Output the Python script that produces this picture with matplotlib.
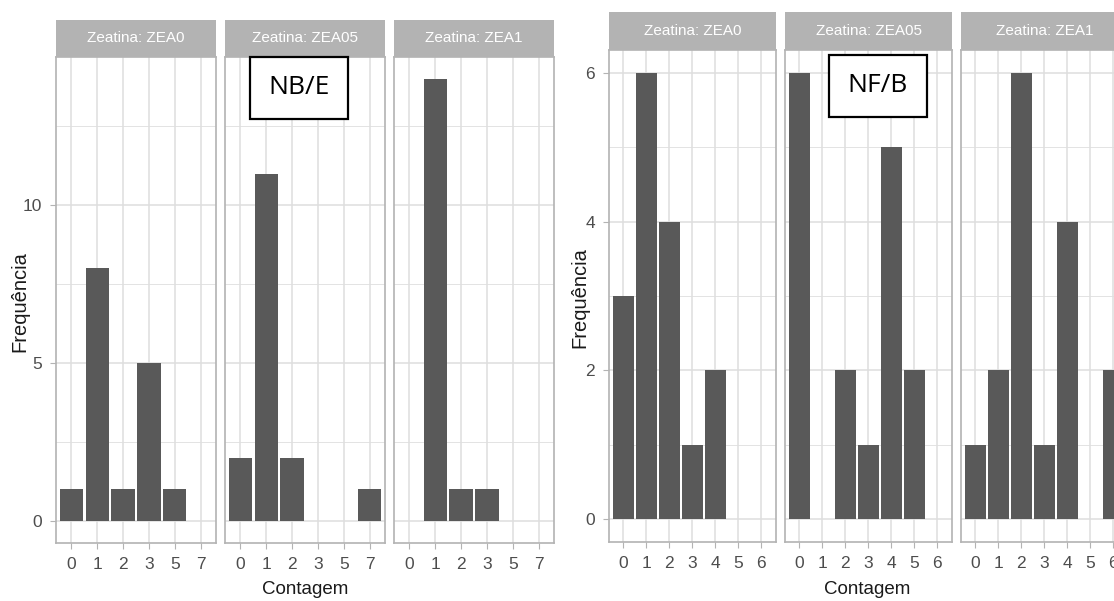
import matplotlib
matplotlib.use("Agg")
import matplotlib.pyplot as plt
import numpy as np

plt.rcParams['font.family'] = ['Liberation Sans', 'DejaVu Sans']

# dados - grafico da esquerda (NB/E), x discreto
facetas = ["Zeatina: ZEA0", "Zeatina: ZEA05", "Zeatina: ZEA1"]
cat_esq = ["0", "1", "2", "3", "5", "7"]
freq_esq = [
    [1, 8, 1, 5, 1, 0],   # ZEA0
    [2, 11, 2, 0, 0, 1],  # ZEA05
    [0, 14, 1, 1, 0, 0],  # ZEA1
]

# dados - grafico da direita (NF/B)
cont_dir = [0, 1, 2, 3, 4, 5, 6]
freq_dir = [
    [3, 6, 4, 1, 2, 0, 0],  # ZEA0
    [6, 0, 2, 1, 5, 2, 0],  # ZEA05
    [1, 2, 6, 1, 4, 0, 2],  # ZEA1
]

W, H = 1114, 601
fig = plt.figure(figsize=(W / 100, H / 100), dpi=100)

BAR = "#595959"
GRID = "#DEDEDE"
BORDA = "#B3B3B3"
TXT = "#4D4D4D"


def px(x0, y0, w, h):
    # caixa em pixels (topo-esquerda) -> fracao da figura
    return [x0 / W, 1 - (y0 + h) / H, w / W, h / H]


def painel(rect, strip_rect, titulo, xs, ys, xlim, ylim, yticks, yminor,
           xlabels, mostrar_y):
    ax = fig.add_axes(px(*rect))
    ax.bar(xs, ys, width=0.9, color=BAR, zorder=3)
    ax.set_xlim(*xlim)
    ax.set_ylim(*ylim)
    ax.set_xticks(xs)
    ax.set_xticklabels(xlabels, fontsize=12.5, color=TXT)
    ax.set_yticks(yticks)
    ax.set_yticks(yminor, minor=True)
    ax.grid(True, which="major", color=GRID, lw=1.1, zorder=0)
    ax.grid(True, which="minor", axis="y", color=GRID, lw=0.6, zorder=0)
    ax.tick_params(which="major", length=4, color=BORDA, pad=6)
    ax.tick_params(which="minor", length=0)
    if mostrar_y:
        ax.set_yticklabels([str(t) for t in yticks], fontsize=12.5, color=TXT)
    else:
        ax.tick_params(axis="y", which="major", length=0, labelleft=False)
    for s in ax.spines.values():
        s.set_color(BORDA)
        s.set_linewidth(1.2)
    st = fig.add_axes(px(*strip_rect))
    st.set_facecolor(BORDA)
    st.set_xticks([])
    st.set_yticks([])
    for s in st.spines.values():
        s.set_visible(False)
    st.text(0.5, 0.5, titulo, color="white", fontsize=11,
            ha="center", va="center", transform=st.transAxes)
    return ax


# grafico da esquerda
xs_esq = np.arange(len(cat_esq))
esq_x0 = [56, 225, 394]
for i, nome in enumerate(facetas):
    painel((esq_x0[i], 57, 160, 486), (esq_x0[i], 20, 160, 37), nome,
           xs_esq, freq_esq[i], (-0.6, 5.6), (-0.7, 14.7),
           [0, 5, 10], [2.5, 7.5, 12.5], cat_esq, i == 0)

fig.text(20 / W, 1 - 302 / H, "Frequência", rotation=90, fontsize=14.5,
         color="#1A1A1A", ha="center", va="center")
fig.text(305 / W, 1 - 590 / H, "Contagem", fontsize=13.5,
         color="#1A1A1A", ha="center", va="center")

# grafico da direita
xs_dir = np.array(cont_dir)
dir_x0 = [609, 785, 961]
for i, nome in enumerate(facetas):
    painel((dir_x0[i], 50, 167, 492), (dir_x0[i], 12, 167, 38), nome,
           xs_dir, freq_dir[i], (-0.62, 6.64), (-0.31, 6.31),
           [0, 2, 4, 6], [1, 3, 5], [str(c) for c in cont_dir], i == 0)

fig.text(580 / W, 1 - 298 / H, "Frequência", rotation=90, fontsize=14.5,
         color="#1A1A1A", ha="center", va="center")
fig.text(867 / W, 1 - 590 / H, "Contagem", fontsize=13.5,
         color="#1A1A1A", ha="center", va="center")

# caixas de texto
fig.text(299 / W, 1 - 88 / H, "NB/E", fontsize=19, family="Open Sans",
         ha="center", va="center",
         bbox=dict(boxstyle="square,pad=0.7", fc="white", ec="black", lw=1.6))
fig.text(878 / W, 1 - 86 / H, "NF/B", fontsize=19, family="Open Sans",
         ha="center", va="center",
         bbox=dict(boxstyle="square,pad=0.7", fc="white", ec="black", lw=1.6))

fig.savefig("out.png", dpi=100)
